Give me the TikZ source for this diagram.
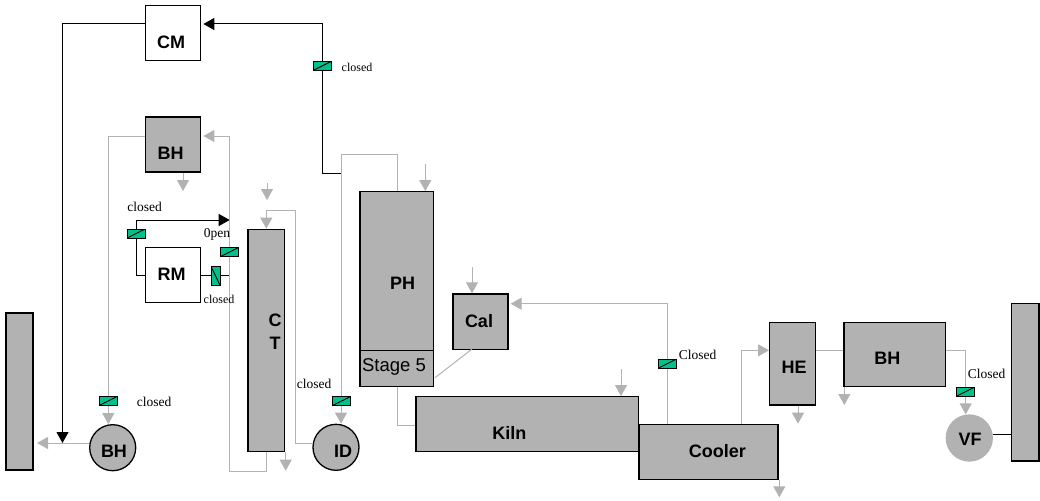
\documentclass[tikz,border=0pt]{standalone}
\usepackage{fontspec}
\setmainfont{Liberation Sans}
\newfontfamily\notefont{Liberation Serif}
\usetikzlibrary{arrows.meta}
\definecolor{unitgrey}{HTML}{B2B2B2}
\definecolor{valvegreen}{HTML}{00C08C}
\begin{document}
\begin{tikzpicture}[x=1pt,y=-1pt,>={Triangle[length=11pt,width=12pt]},
  unit/.style={rectangle, draw, line width=1.3pt, fill=unitgrey, inner sep=0pt},
  blank/.style={rectangle, draw, line width=1.3pt, fill=white, inner sep=0pt},
  fan/.style={circle, draw, line width=1.3pt, fill=unitgrey, inner sep=0pt, minimum size=46pt},
  tag/.style={font=\fontsize{18}{20}\selectfont\bfseries, inner sep=0pt},
  note/.style={font=\notefont\fontsize{13.5}{15}\selectfont, inner sep=0pt},
  smallnote/.style={font=\notefont\fontsize{12}{14}\selectfont, inner sep=0pt},
  gas/.style={draw=unitgrey, line width=1pt},
  air/.style={draw=black, line width=1pt},
  valve/.style={rectangle, draw, line width=0.9pt, fill=valvegreen, inner sep=0pt, minimum width=18pt, minimum height=9pt,
    path picture={\draw[line width=0.9pt] (path picture bounding box.south west) -- (path picture bounding box.north east);}},
  valveup/.style={rectangle, draw, line width=0.9pt, fill=valvegreen, inner sep=0pt, minimum width=9pt, minimum height=19pt,
    path picture={\draw[line width=0.9pt] (path picture bounding box.north west) -- (path picture bounding box.south east);}}]
\useasboundingbox (0,0) rectangle (1040,500);

\node[blank, minimum width=55pt, minimum height=55pt] (CM) at (173.2,33) {};
\node[unit, minimum width=55pt, minimum height=55pt] (BagTop) at (173.2,144.5) {};
\node[blank, minimum width=55pt, minimum height=55pt] (RM) at (173.2,275.2) {};
\node[unit, minimum width=27pt, minimum height=157pt] (StackLeft) at (19.5,391.5) {};
\node[fan] (FanBH) at (112.7,447.7) {};
\node[unit, minimum width=36.7pt, minimum height=222.4pt] (CT) at (266.3,340.5) {};
\node[fan] (FanID) at (336,447.3) {};
\node[unit, minimum width=73.7pt, minimum height=194.6pt] (PH) at (396.8,289) {};
\node[unit, minimum width=55pt, minimum height=55.3pt] (Cal) at (480.5,321.6) {};
\node[unit, minimum width=222.3pt, minimum height=55pt] (Kiln) at (527.2,424.2) {};
\node[unit, minimum width=139pt, minimum height=54.6pt] (Cooler) at (708.5,452) {};
\node[unit, minimum width=45.6pt, minimum height=82.7pt] (HE) at (792.5,363.6) {};
\node[unit, minimum width=101.7pt, minimum height=64pt] (BagRight) at (894.8,354.3) {};
\node[fan, draw=unitgrey] (FanVF) at (969.3,438) {};
\node[unit, minimum width=27.3pt, minimum height=157.3pt] (StackRight) at (1025.3,382.3) {};

\node[tag] (CMtext) at (171,42) {CM};
\node[tag] (BagToptext) at (170.5,153.5) {BH};
\node[tag] (RMtext) at (171.5,274) {RM};
\node[tag] (FanBHtext) at (114,451) {BH};
\node[tag] (CTtextC) at (275,320) {C};
\node[tag] (CTtextT) at (275,343) {T};
\node[tag] (FanIDtext) at (343,451.5) {ID};
\node[tag] (PHtext) at (402.7,283) {PH};
\node[tag] (Caltext) at (479,320.7) {Cal};
\node[tag] (Kilntext) at (509.3,432.7) {Kiln};
\node[tag] (Coolertext) at (717.3,451.3) {Cooler};
\node[tag] (HEtext) at (794,367.7) {HE};
\node[tag] (BagRighttext) at (887.3,358.3) {BH};
\node[tag] (VFtext) at (970,439) {VF};
\node[font=\fontsize{18.5}{20}\selectfont, inner sep=0pt] (Stage) at (394,367.3) {Stage 5};

\coordinate (CMleft) at (62.5,24);
\coordinate (CMright) at (322.7,24);
\coordinate (CMduct) at (322.7,173);
\coordinate (PHduct) at (341,173);
\coordinate (BagLeft) at (108.3,136);
\coordinate (BagReturn) at (229.7,136);
\coordinate (CTbase) at (229.7,471);
\coordinate (RMleft) at (136.7,275.7);
\coordinate (RMtop) at (136.7,220);
\coordinate (RMtip) at (229.7,220);
\coordinate (RMright) at (229.7,275.7);
\coordinate (FanOut) at (35,443);
\coordinate (FanJoin) at (62.5,443);
\coordinate (IDleft) at (295,443);
\coordinate (CTtop) at (295,210.7);
\coordinate (CTin) at (266.3,210.7);
\coordinate (IDtop) at (341,154.7);
\coordinate (PHtop) at (397.3,154.7);
\coordinate (PHlow) at (397.3,425);
\coordinate (CalIn) at (667.7,303.7);
\coordinate (CalLow) at (471.7,349.3);
\coordinate (StageSide) at (435,377.7);
\coordinate (StageTop) at (397,350);
\coordinate (HEtop) at (741.7,350.3);
\coordinate (BHduct) at (965.7,350.3);
\coordinate (VFline) at (1000,434);

% feed and dust points
\coordinate (BagDust) at (183,191);
\coordinate (CTfeed) at (267,183);
\coordinate (CTfeedEnd) at (267,200);
\coordinate (CTdust) at (285.7,470.7);
\coordinate (PHfeed) at (425.3,164);
\coordinate (Calfeed) at (472,266.7);
\coordinate (Kilnfeed) at (621,369);
\coordinate (CoolerDust) at (779.3,497.3);
\coordinate (HEdust) at (798,423.7);
\coordinate (BagRightDust) at (844.3,405);

% air lines
\draw[air,->] (CM.west |- CMleft) -- (CMleft) -- (FanJoin);
\draw[air,->] (PHduct) -- (CMduct) -- (CMright) -- ([xshift=2pt]CMright -| CM.east);
\draw[air,->] (RM.west |- RMleft) -- (RMleft) -- (RMtop) -- (RMtip);
\draw[air] (RM.east |- RMright) -- (RMright);
\draw[air] (FanVF.east |- VFline) -- (VFline -| StackRight.west);

% gas lines
\draw[gas,->] (BagTop.west |- BagLeft) -- (BagLeft) -- (BagLeft |- FanBH.north);
\draw[gas,->] (FanBH.west |- FanOut) -- ([xshift=2pt]FanOut);
\draw[gas,->] (CT.south) -- (CT.south |- CTbase) -- (CTbase) -- (BagReturn) -- ([xshift=2pt]BagReturn -| BagTop.east);
\draw[gas,->] (FanID.west |- IDleft) -- (IDleft) -- (CTtop) -- (CTin) -- (CT.north);
\draw[gas,->] (PH.north -| PHtop) -- (PHtop) -- (IDtop) -- (IDtop |- FanID.north);
\draw[gas] (PH.south -| PHlow) -- (PHlow) -- (PHlow -| Kiln.west);
\draw[gas] (CalLow) -- (StageSide);
\draw[gas,->] (Cooler.north -| CalIn) -- (CalIn) -- ([xshift=2pt]CalIn -| Cal.east);
\draw[gas,->] (Cooler.north -| HEtop) -- (HEtop) -- (HEtop -| HE.west);
\draw[gas] (HE.east |- HEtop) -- (HEtop -| BagRight.west);
\draw[gas,->] (BagRight.east |- BHduct) -- (BHduct) -- (BHduct |- FanVF.north);

% dust and feed
\draw[gas,->] (BagTop.south -| BagDust) -- (BagDust);
\draw[gas,->] (CTfeed) -- (CTfeedEnd);
\draw[gas,->] (CT.south -| CTdust) -- (CTdust);
\draw[gas,->] (PHfeed) -- (PHfeed |- PH.north);
\draw[gas,->] (Calfeed) -- (Calfeed |- Cal.north);
\draw[gas,->] (Kilnfeed) -- (Kilnfeed |- Kiln.north);
\draw[gas,->] (Cooler.south -| CoolerDust) -- (CoolerDust);
\draw[gas,->] (HE.south -| HEdust) -- (HEdust);
\draw[gas,->] (BagRight.south -| BagRightDust) -- (BagRightDust);

\draw[line width=0.7pt] (StageTop -| PH.west) -- (StageTop -| PH.east);

\node[valve] (ValveCM) at (322,66) {};
\node[valve] (ValveFan) at (108,401) {};
\node[valve] (ValveRM) at (136.2,233.5) {};
\node[valve] (ValveOpen) at (229.3,252.2) {};
\node[valveup] (ValveSide) at (215.5,275.8) {};
\node[valve] (ValveID) at (341,401.3) {};
\node[valve] (ValveCooler) at (667,363.8) {};
\node[valve] (ValveVF) at (965.2,391.8) {};

\node[smallnote] (NoteCM) at (357,67) {closed};
\node[note] (NoteFan) at (154,401.5) {closed};
\node[note] (NoteRM) at (144.5,206.7) {closed};
\node[note] (NoteOpen) at (217,234.7) {0pen};
\node[smallnote] (NoteSide) at (219,299) {closed};
\node[note] (NoteID) at (314,383.7) {closed};
\node[note] (NoteCooler) at (697.7,355.3) {Closed};
\node[note] (NoteVF) at (986.7,374.3) {Closed};
\end{tikzpicture}
\end{document}
